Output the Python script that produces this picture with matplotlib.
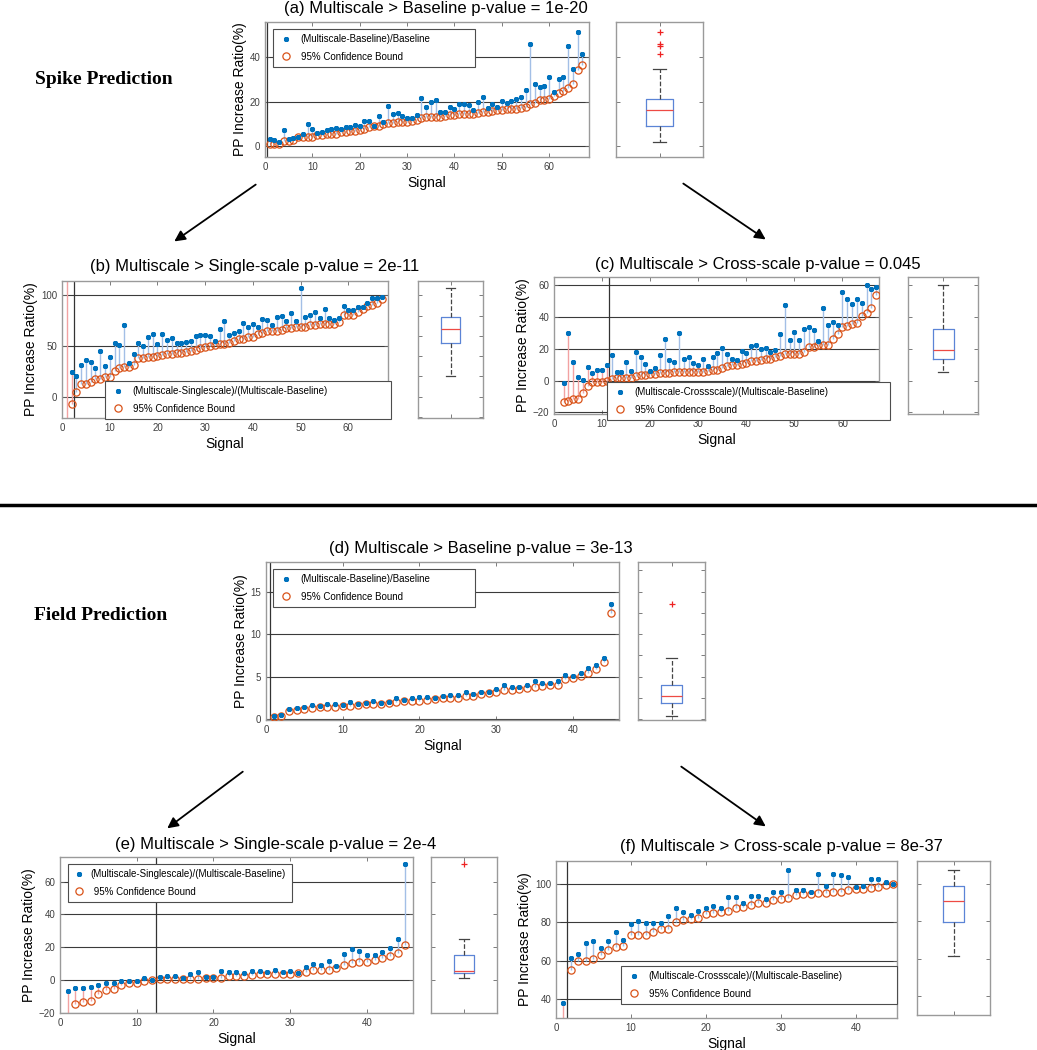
import numpy as np
import matplotlib
matplotlib.use('Agg')
import matplotlib.pyplot as plt
from matplotlib.lines import Line2D
from matplotlib.patches import FancyArrowPatch

plt.rcParams['font.family'] = ['Liberation Sans', 'DejaVu Sans']

# ---------------- data ----------------
# (a) spike: multiscale vs baseline, 67 signals
a_up = [3.4, 3.0, 1.9, 7.2, 3.4, 3.7, 4.2, 5.7, 9.9, 7.6,
        6.0, 6.3, 7.3, 7.9, 8.1, 7.8, 8.7, 8.5, 9.7, 9.3,
        11.2, 11.3, 9.3, 13.6, 10.7, 18.1, 14.6, 15.1, 13.4, 12.8,
        12.5, 13.9, 21.6, 17.6, 20.0, 20.9, 15.5, 15.5, 17.5, 16.9,
        19.1, 19.1, 18.7, 16.4, 19.9, 21.9, 17.3, 19.0, 17.6, 20.3,
        19.6, 20.1, 21.2, 21.9, 25.1, 46.0, 28.1, 26.6, 27.0, 31.2,
        24.2, 30.3, 31.0, 44.8, 34.8, 51.0, 41.5]
a_lo = [0.9, 1.2, 1.2, 2.4, 2.4, 2.7, 4.2, 4.2, 4.2, 4.2,
        4.9, 5.2, 5.4, 5.4, 5.4, 6.4, 6.4, 6.7, 6.9, 7.2,
        7.9, 8.5, 9.0, 9.3, 10.0, 10.6, 10.6, 10.9, 11.0, 11.0,
        11.2, 11.6, 12.7, 13.1, 13.3, 13.3, 13.3, 13.6, 13.9, 14.2,
        14.3, 14.3, 14.5, 14.6, 15.1, 15.2, 15.5, 16.0, 16.1, 16.3,
        16.6, 16.6, 16.7, 17.3, 17.5, 18.8, 19.6, 20.7, 20.9, 21.3,
        22.5, 24.0, 24.8, 26.3, 28.1, 34.2, 36.3]

# (b) spike: multiscale vs single-scale (signal 1 is off the plotted range)
b_up = [130.0, 24.8, 20.6, 31.7, 36.6, 33.7, 28.4, 44.8, 30.4, 39.5,
        52.9, 51.3, 70.3, 33.0, 41.8, 53.3, 49.7, 59.2, 62.1, 52.3,
        61.8, 55.9, 57.8, 52.6, 53.3, 54.2, 55.2, 59.8, 60.5, 60.8,
        59.8, 55.2, 66.3, 74.2, 60.8, 63.1, 65.0, 72.9, 68.3, 71.2,
        68.6, 76.1, 75.5, 70.9, 78.4, 79.4, 74.5, 82.0, 74.2, 107.5,
        78.8, 80.7, 83.0, 77.8, 86.9, 77.8, 75.2, 77.5, 89.2, 85.0,
        85.0, 88.6, 88.6, 92.5, 97.1, 97.1, 98.0]
b_lo = [-40.0, -6.9, 4.9, 12.7, 12.7, 14.4, 17.0, 17.0, 19.0, 19.0,
        25.8, 28.1, 28.8, 28.8, 31.4, 37.9, 38.6, 38.9, 39.2, 40.2,
        41.2, 41.8, 42.5, 42.8, 43.5, 44.4, 45.4, 46.4, 47.7, 48.7,
        50.0, 51.0, 51.6, 51.6, 53.3, 55.2, 56.5, 56.9, 58.8, 59.2,
        61.4, 63.1, 64.7, 65.0, 65.0, 65.7, 67.6, 68.0, 68.3, 68.3,
        68.6, 70.6, 70.9, 71.6, 71.6, 71.6, 71.6, 73.2, 80.1, 80.1,
        80.4, 83.3, 86.6, 88.9, 90.8, 92.8, 96.1]

# (c) spike: multiscale vs cross-scale (signal 1 not shown)
c_up = [np.nan, -1.5, 29.6, 11.5, 2.3, 0.2, 8.8, 4.8, 6.9, 6.9,
        9.8, 16.0, 5.6, 5.6, 11.9, 6.0, 17.7, 14.8, 10.4, 6.0,
        8.1, 16.3, 26.0, 12.9, 11.5, 29.8, 13.8, 14.8, 11.0, 9.6,
        13.5, 9.4, 14.6, 17.1, 20.4, 16.7, 13.3, 12.7, 18.3, 17.5,
        21.5, 22.5, 19.8, 20.4, 17.9, 19.0, 29.0, 47.5, 25.6, 30.4,
        25.6, 32.3, 33.5, 31.9, 25.0, 45.8, 35.0, 36.5, 34.6, 55.4,
        51.5, 48.1, 51.3, 48.5, 60.2, 57.5, 58.8]
c_lo = [np.nan, -13.5, -13.1, -11.5, -11.3, -8.1, -3.5, -1.0, -0.6, -0.6,
        -0.4, 1.0, 1.3, 1.5, 1.5, 1.7, 3.1, 3.3, 3.5, 4.0,
        4.4, 4.8, 4.8, 5.0, 5.2, 5.2, 5.2, 5.2, 5.2, 5.2,
        5.6, 6.0, 6.5, 6.9, 8.1, 9.0, 9.8, 10.0, 10.6, 11.0,
        12.1, 12.5, 12.7, 13.3, 13.8, 14.6, 15.6, 16.7, 16.7, 16.7,
        16.7, 17.9, 21.0, 21.0, 22.1, 22.5, 22.5, 26.0, 29.2, 33.9,
        34.2, 35.4, 36.0, 40.4, 42.7, 45.4, 53.5]

# (d) field: multiscale vs baseline, 45 signals
d_up = [0.35, 0.47, 1.22, 1.30, 1.38, 1.61, 1.54, 1.81, 1.77, 1.69,
        1.97, 1.77, 1.93, 2.17, 1.85, 2.05, 2.52, 2.24, 2.44, 2.56,
        2.56, 2.48, 2.72, 2.83, 2.83, 3.15, 2.95, 3.23, 3.19, 3.58,
        4.06, 3.74, 3.74, 4.06, 4.49, 4.21, 4.25, 4.49, 5.24, 5.08,
        5.43, 6.06, 6.42, 7.20, 13.6]
d_lo = [0.20, 0.35, 0.98, 1.06, 1.14, 1.34, 1.38, 1.38, 1.46, 1.57,
        1.57, 1.61, 1.77, 1.77, 1.81, 1.93, 1.97, 2.09, 2.17, 2.17,
        2.24, 2.40, 2.48, 2.48, 2.52, 2.76, 2.76, 2.91, 3.07, 3.19,
        3.43, 3.46, 3.54, 3.70, 3.82, 3.90, 3.98, 4.06, 4.69, 4.80,
        5.04, 5.39, 5.91, 6.77, 12.44]

# (e) field: multiscale vs single-scale
e_up = [-6.9, -4.9, -4.5, -4.3, -2.8, -2.0, -1.8, -0.6, -0.8, -0.8,
        1.4, 0.0, 1.8, 2.8, 2.4, 1.6, 3.5, 4.7, 2.0, 2.2,
        5.7, 5.1, 5.1, 4.3, 5.3, 5.3, 5.1, 6.1, 4.9, 5.5,
        4.5, 7.9, 10.0, 9.3, 11.6, 8.9, 16.1, 18.7, 17.5, 15.6,
        15.2, 17.1, 19.3, 25.2, 70.7]
e_lo = [-25.0, -14.4, -13.4, -12.8, -8.5, -6.1, -5.3, -3.0, -1.8, -1.6,
        -0.6, -0.2, 0.6, 0.6, 0.6, 0.6, 0.6, 0.8, 1.2, 1.2,
        1.4, 2.4, 2.8, 2.8, 3.3, 3.5, 3.5, 3.7, 3.9, 3.9,
        4.1, 4.9, 5.9, 5.9, 5.9, 7.3, 9.1, 10.4, 11.0, 11.0,
        12.4, 13.4, 14.6, 16.7, 21.7]

# (f) field: multiscale vs cross-scale (bound of signal 1 is off the range)
f_up = [37.6, 61.3, 63.4, 69.4, 70.3, 66.8, 70.3, 74.9, 71.0, 79.3,
        80.5, 79.4, 79.6, 79.6, 83.3, 87.5, 85.2, 84.0, 86.1, 87.3,
        88.4, 87.5, 93.3, 93.3, 90.0, 93.8, 93.8, 91.9, 95.6, 95.6,
        107.4, 96.7, 96.7, 95.6, 105.3, 99.1, 105.1, 104.7, 103.7, 98.2,
        99.1, 102.5, 102.5, 100.9, 100.0]
f_lo = [-10.0, 55.2, 59.8, 59.9, 60.6, 62.9, 65.7, 67.3, 67.5, 73.1,
        73.1, 73.1, 74.7, 76.3, 76.3, 80.3, 81.2, 81.5, 82.1, 84.4,
        84.9, 85.2, 86.1, 87.3, 88.2, 89.1, 90.0, 90.3, 91.6, 92.3,
        92.6, 94.2, 94.6, 94.9, 95.1, 95.4, 95.6, 95.6, 96.8, 97.2,
        97.5, 98.1, 98.2, 99.5, 99.8]

lab_base = '(Multiscale-Baseline)/Baseline'
lab_single = '(Multiscale-Singlescale)/(Multiscale-Baseline)'
lab_cross = '(Multiscale-Crossscale)/(Multiscale-Baseline)'
lab_bound = '95% Confidence Bound'

# ---------------- figure ----------------
W, H = 1037, 1050
fig = plt.figure(figsize=(W / 100, H / 100), dpi=100)


def px(l, t, r, b):
    return [l / W, 1 - b / H, (r - l) / W, (b - t) / H]


def style(ax):
    for s in ax.spines.values():
        s.set_color('#9a9a9a')
        s.set_linewidth(1.0)
    ax.tick_params(direction='in', length=3, width=0.6, color='#666666',
                   labelsize=7, labelcolor='#404040', top=True, right=True)


star = dict(ls='none', marker=(6, 2, 0), ms=3.6, mew=1.3, color='#0072BD')
circ = dict(ls='none', marker='o', ms=5.2, mfc='none', mec='#D95319', mew=0.9)


def panel(rect, box_rect, up, lo, xlim, ylim, yticks, xticks,
          title, title_xy, label, leg_box, bound_label=lab_bound, hlen=1.6):
    up = np.array(up, float)
    lo = np.array(lo, float)
    x = np.arange(1, len(up) + 1)
    sig = lo > 0

    ax = fig.add_axes(px(*rect))
    style(ax)
    cols = np.where(sig, '#a3bfe6', '#f2a2a2')
    ax.vlines(x, lo, up, colors=cols, lw=1.0, zorder=2)
    ax.axvline(np.sum(~sig) + 0.5, color='#333333', lw=0.9, zorder=1)
    ax.plot(x, lo, zorder=3, **circ)
    ax.plot(x, up, zorder=4, **star)
    ax.set_xlim(xlim)
    ax.set_ylim(ylim)
    ax.set_yticks(yticks)
    ax.set_xticks(xticks)
    ax.yaxis.grid(True, color='#3a3a3a', lw=0.8)
    ax.set_axisbelow(True)
    ax.set_xlabel('Signal', fontsize=10, labelpad=3)
    ax.set_ylabel('PP Increase Ratio(%)', fontsize=10, labelpad=2)

    # legend box given in pixels: left, top, right, bottom
    l, t, r, b = leg_box
    h1 = Line2D([], [], **star)
    h2 = Line2D([], [], **circ)
    leg = ax.legend([h1, h2], [label, bound_label], loc='upper left',
                    bbox_to_anchor=(l / W, 1 - b / H, (r - l) / W, (b - t) / H),
                    bbox_transform=fig.transFigure, borderaxespad=0,
                    mode='expand', fontsize=7, frameon=True, fancybox=False,
                    framealpha=1, handletextpad=0.7, borderpad=0.55,
                    labelspacing=0.75, handlelength=hlen)
    leg.get_frame().set_edgecolor('#4d4d4d')
    leg.get_frame().set_linewidth(0.8)
    leg.set_zorder(10)

    bx = fig.add_axes(px(*box_rect))
    style(bx)
    bx.boxplot(up[sig], positions=[1], widths=0.3, whis=1.5,
               boxprops=dict(color='#5b84d6', lw=0.9),
               medianprops=dict(color='#ee4a44', lw=0.9),
               whiskerprops=dict(color='#444444', ls='--', lw=0.9),
               capprops=dict(color='#444444', lw=0.9),
               flierprops=dict(marker='+', mec='#ee2222', ms=5, mew=0.9))
    bx.set_xlim(0.5, 1.5)
    bx.set_ylim(ylim)
    bx.set_xticks([1])
    bx.tick_params(labelleft=False, labelbottom=False)

    fig.text(title_xy[0] / W, 1 - title_xy[1] / H, title,
             ha='center', va='center', fontsize=12)


panel((265, 22, 589, 157), (616, 22, 703, 157), a_up, a_lo,
      (0, 68.4), (-4.8, 55.7), [0, 20, 40], range(0, 70, 10),
      '(a) Multiscale > Baseline p-value = 1e-20', (436, 9),
      lab_base, (273, 29, 475, 65))
panel((62, 281, 388, 418), (418, 281, 483, 418), b_up, b_lo,
      (0, 68.3), (-21, 114), [0, 50, 100], range(0, 70, 10),
      '(b) Multiscale > Single-scale p-value = 2e-11', (255, 266),
      lab_single, (105, 381, 391, 417))
panel((554, 277, 879, 414), (908, 277, 978, 414), c_up, c_lo,
      (0, 67.6), (-21, 65), [-20, 0, 20, 40, 60], range(0, 70, 10),
      '(c) Multiscale > Cross-scale p-value = 0.045', (758, 264),
      lab_cross, (607, 382, 890, 418))
panel((266, 562, 619, 720), (638, 562, 705, 720), d_up, d_lo,
      (0, 46), (-0.1, 18.5), [0, 5, 10, 15], range(0, 50, 10),
      '(d) Multiscale > Baseline p-value = 3e-13', (481, 548),
      lab_base, (273, 569, 475, 605))
panel((60, 857, 413, 1013), (431, 857, 497, 1013), e_up, e_lo,
      (0, 46), (-20, 75), [-20, 0, 20, 40, 60], range(0, 50, 10),
      '(e) Multiscale > Single-scale p-value = 2e-4', (276, 844),
      lab_single, (68, 864, 292, 900), bound_label=' ' + lab_bound, hlen=1.1)
panel((556, 861, 897, 1018), (917, 861, 990, 1015), f_up, f_lo,
      (0, 45.5), (30, 112), [40, 60, 80, 100], range(0, 50, 10),
      '(f) Multiscale > Cross-scale p-value = 8e-37', (781, 846),
      lab_cross, (621, 966, 897, 1002))

# section labels
fig.text(104 / W, 1 - 80 / H, 'Spike Prediction', ha='center', va='center',
         fontsize=14, fontweight='bold', family='Liberation Serif')
fig.text(101 / W, 1 - 615 / H, 'Field Prediction', ha='center', va='center',
         fontsize=14, fontweight='bold', family='Liberation Serif')

# arrows
arrows = [((258, 183), (172, 243)), ((681, 182), (768, 241)),
          ((245, 770), (165, 830)), ((679, 765), (768, 828))]
for (x0, y0), (x1, y1) in arrows:
    fig.add_artist(FancyArrowPatch((x0 / W, 1 - y0 / H), (x1 / W, 1 - y1 / H),
                                   transform=fig.transFigure, arrowstyle='-|>',
                                   mutation_scale=16, lw=1.3, color='k'))

# separator between spike and field sections
fig.add_artist(Line2D([0, 1], [1 - 505 / H, 1 - 505 / H],
                      transform=fig.transFigure, color='k', lw=2.5))

fig.savefig('out.png', dpi=100)
